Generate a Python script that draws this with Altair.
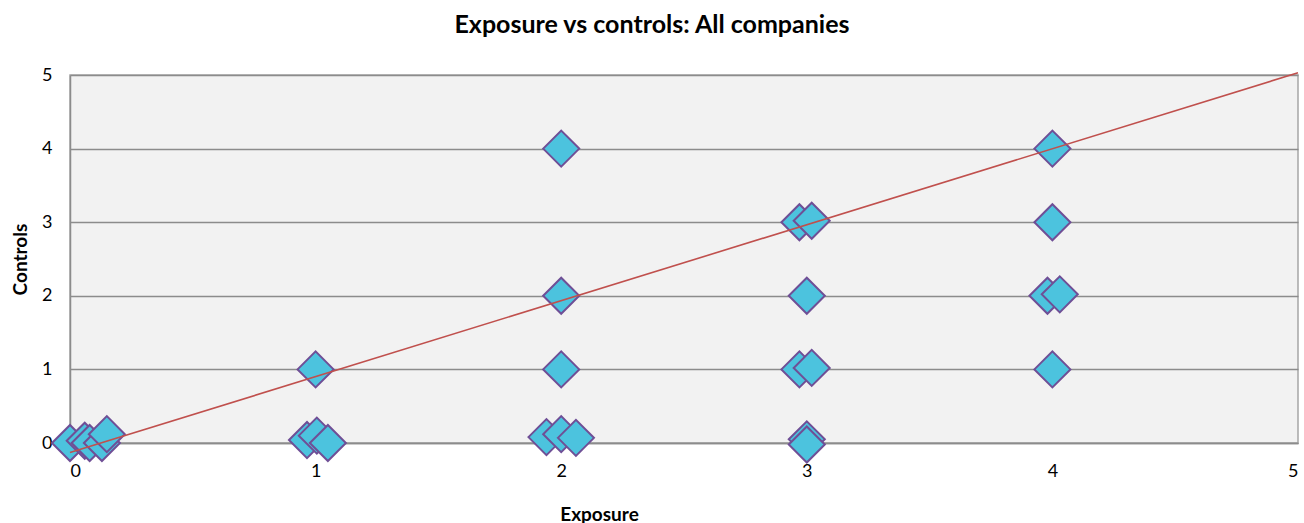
import altair as alt
import pandas as pd

# Data (points are slightly jittered around integer values)
exposure = [0.00, 0.06, 0.08, 0.13, 0.15,
            0.965, 1.005, 1.05, 1.00,
            1.94, 2.00, 2.06, 2.00, 2.00, 2.00,
            2.97, 3.02, 3.00, 2.97, 3.02, 3.00, 3.00,
            4.00, 4.00, 3.98, 4.03, 4.00]
controls = [0.00, 0.03, 0.00, 0.00, 0.12,
            0.04, 0.10, 0.00, 1.00,
            0.08, 0.12, 0.07, 1.00, 2.00, 4.00,
            3.00, 3.02, 2.00, 1.00, 1.02, 0.05, -0.02,
            4.00, 3.00, 2.00, 2.02, 1.00]

trend_x = [0.0, 5.0]
trend_y = [-0.13, 5.03]

pts = pd.DataFrame({"Exposure": exposure, "Controls": controls})
trend = pd.DataFrame({"Exposure": trend_x, "Controls": trend_y})

FONT = "Lato"

xscale = alt.Scale(domain=[0, 5], nice=False, zero=False)
yscale = alt.Scale(domain=[0, 5], nice=False, zero=False)

xaxis = alt.Axis(
    title="Exposure", values=[0, 1, 2, 3, 4, 5], format="d",
    grid=False, ticks=False, domainColor="#8c8c8c", domainWidth=1.5,
    labelFont=FONT, labelFontSize=18, labelColor="#000000", labelPadding=19,
    titleFont=FONT, titleFontSize=19, titleFontWeight="bold", titleColor="#000000",
    titleX=529, titleY=77, titleBaseline="alphabetic", titleAlign="center",
)
yaxis = alt.Axis(
    title="Controls", values=[0, 1, 2, 3, 4, 5], format="d",
    grid=True, gridColor="#8c8c8c", gridWidth=1.5,
    ticks=False, domainColor="#8c8c8c", domainWidth=1.5,
    labelFont=FONT, labelFontSize=18, labelColor="#000000", labelPadding=18,
    titleFont=FONT, titleFontSize=19, titleFontWeight="bold", titleColor="#000000",
    titleX=-50, titleY=184, titleAngle=-90, titleBaseline="middle", titleAlign="center",
)

points = alt.Chart(pts).mark_point(
    shape="diamond", filled=True, size=1300,
    fill="#4cc3de", stroke="#6f4f96", strokeWidth=2, opacity=1,
).encode(
    x=alt.X("Exposure:Q", scale=xscale, axis=xaxis),
    y=alt.Y("Controls:Q", scale=yscale, axis=yaxis),
)

line = alt.Chart(trend).mark_line(color="#c0504d", strokeWidth=1.6).encode(
    x=alt.X("Exposure:Q", scale=xscale),
    y=alt.Y("Controls:Q", scale=yscale),
)

chart = alt.layer(points, line).properties(
    width=1228, height=368,
    autosize=alt.AutoSizeParams(type="none"),
    padding={"left": 70, "top": 75, "right": 6, "bottom": 80},
    background="#ffffff",
    title=alt.TitleParams(
        "Exposure vs controls: All companies",
        font=FONT, fontSize=25, fontWeight="bold", color="#000000",
        anchor="middle", dx=-32, offset=28,
    ),
).configure_view(
    fill="#f2f2f2", stroke="#a6a6a6", strokeWidth=1.5,
)

chart.save("out.html", embed_options={"renderer": "svg", "actions": False})
